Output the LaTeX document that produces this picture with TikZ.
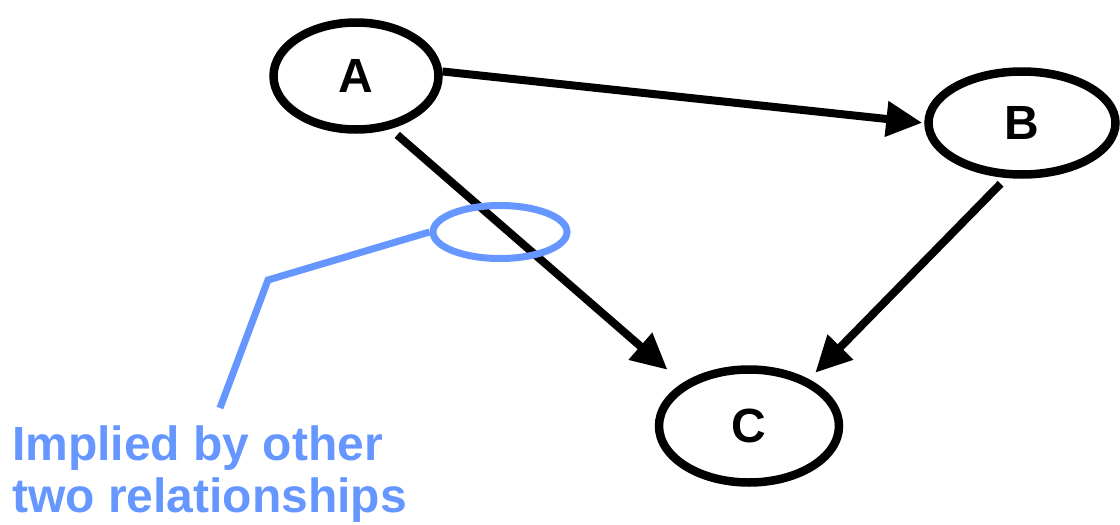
\documentclass[tikz,border=0pt]{standalone}
\usepackage{fontspec}
\setmainfont{Liberation Sans}
\usetikzlibrary{arrows.meta,shapes.geometric}
\definecolor{hiblue}{RGB}{102,150,255}
\begin{document}
\begin{tikzpicture}[x=1pt,y=-1pt,
  vert/.style={draw=black,line width=8.5pt,ellipse,inner sep=0pt,font=\fontsize{48}{54}\selectfont\bfseries},
  edge/.style={line width=8pt,-{Triangle[length=36pt,width=34pt]}},
  hint/.style={draw=hiblue,line width=7pt}]
\useasboundingbox (0,0) rectangle (1120,525);
\node[vert,minimum width=165pt,minimum height=107pt] (A) at (356,76) {A};
\node[vert,minimum width=187pt,minimum height=103pt] (B) at (1022,123) {B};
\node[vert,minimum width=180pt,minimum height=113pt] (C) at (749,426) {C};
\draw[edge,shorten >=2pt] (A.3) -- (B.180);
\draw[edge,shorten <=9pt,shorten >=20pt] (A.-57) -- (C.147);
\draw[edge,shorten <=8pt,shorten >=9pt] (B.254) -- (C.38);
\node[hint,ellipse,inner sep=0pt,minimum width=134pt,minimum height=53pt] (H) at (500,232) {};
\coordinate (K) at (268,280);
\coordinate (T) at (220,408);
\draw[hint,line join=miter] (H.west) -- (K) -- (T);
\node[anchor=base west,align=left,text=hiblue,inner sep=0pt,font=\fontsize{48}{52}\selectfont\bfseries] (L) at (12,512) {Implied by other\\two relationships};
\end{tikzpicture}
\end{document}
